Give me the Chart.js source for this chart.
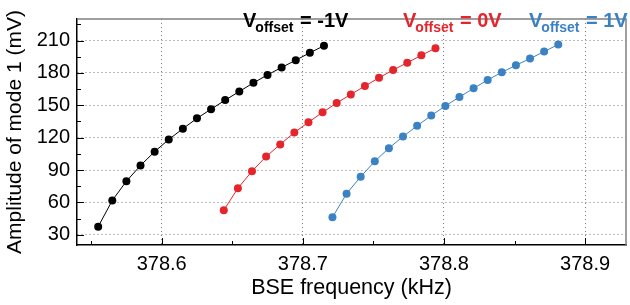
<!DOCTYPE html>
<html>
<head>
<meta charset="utf-8">
<script src="https://cdn.jsdelivr.net/npm/chart.js@4.4.1/dist/chart.umd.min.js"></script>
<style>
  html, body { margin: 0; padding: 0; background: #fff; }
  #wrap { width: 630px; height: 305px; }
</style>
</head>
<body>
<div id="wrap"><canvas id="bseChart" width="630" height="305"></canvas></div>
<script>
// BSE frequency (kHz) and amplitude of mode 1 (mV), one pair per offset voltage
const freqMinus1 = [378.555, 378.565, 378.575, 378.585, 378.595, 378.605, 378.615, 378.625, 378.635,
                    378.645, 378.655, 378.665, 378.675, 378.685, 378.695, 378.705, 378.715];
const ampMinus1 = [37.5, 61.8, 79.6, 94.2, 107.0, 118.3, 128.3, 137.9, 146.4,
                   154.8, 162.8, 170.8, 178.2, 185.1, 191.8, 198.7, 205.2];

const freqZero = [378.644, 378.654, 378.664, 378.674, 378.684, 378.694, 378.704, 378.714,
                  378.724, 378.734, 378.744, 378.754, 378.764, 378.774, 378.784, 378.794];
const ampZero = [52.7, 73.1, 88.9, 102.5, 113.7, 124.8, 134.3, 143.5,
                 152.1, 160.1, 167.8, 175.5, 182.7, 189.5, 196.3, 202.9];

const freqPlus1 = [378.721, 378.731, 378.741, 378.751, 378.761, 378.771, 378.781, 378.791, 378.801,
                   378.811, 378.821, 378.831, 378.841, 378.851, 378.861, 378.871, 378.881];
const ampPlus1 = [46.2, 68.1, 83.8, 98.1, 110.3, 121.0, 131.0, 140.5, 149.4,
                  157.7, 165.7, 173.5, 180.6, 187.1, 193.3, 199.8, 206.4];

const seriesOffsets = ['-1V', '0V', '1V'];
const seriesColors = ['#000000', '#e4262c', '#3b82c4'];

const xTicks = [378.6, 378.7, 378.8, 378.9];
const xMinorTicks = [378.55, 378.65, 378.75, 378.85];
const yTicks = [30, 60, 90, 120, 150, 180, 210];
const yMinorTicks = [45, 75, 105, 135, 165, 195, 225];

const FONT = '"Liberation Sans", Arial, Helvetica, sans-serif';

function toPoints(xs, ys) {
    return xs.map((x, i) => ({ x: x, y: ys[i] }));
}

const allSeries = [
    toPoints(freqMinus1, ampMinus1),
    toPoints(freqZero, ampZero),
    toPoints(freqPlus1, ampPlus1)
];

// frame, inward ticks and the V_offset labels
const decorPlugin = {
    id: 'decor',
    beforeDatasetsDraw(chart) {
        const { ctx, chartArea: a, scales: { x, y } } = chart;
        ctx.save();
        ctx.strokeStyle = '#808080';
        ctx.lineWidth = 1.5;
        ctx.beginPath();
        ctx.moveTo(a.left, a.top);
        ctx.lineTo(a.right, a.top);
        ctx.lineTo(a.right, a.bottom);
        ctx.stroke();

        ctx.strokeStyle = '#000';
        ctx.lineWidth = 1;
        ctx.beginPath();
        xTicks.forEach(v => { const px = Math.round(x.getPixelForValue(v)) + 0.5; ctx.moveTo(px, a.bottom); ctx.lineTo(px, a.bottom - 7); });
        xMinorTicks.forEach(v => { const px = Math.round(x.getPixelForValue(v)) + 0.5; ctx.moveTo(px, a.bottom); ctx.lineTo(px, a.bottom - 4); });
        yTicks.forEach(v => { const py = Math.round(y.getPixelForValue(v)) + 0.5; ctx.moveTo(a.left, py); ctx.lineTo(a.left + 7, py); });
        yMinorTicks.forEach(v => { const py = Math.round(y.getPixelForValue(v)) + 0.5; ctx.moveTo(a.left, py); ctx.lineTo(a.left + 4, py); });
        ctx.stroke();
        ctx.restore();
    },
    afterDatasetsDraw(chart) {
        const { ctx } = chart;
        const labelX = [243, 403, 529];
        const baseY = 27;
        ctx.save();
        ctx.textBaseline = 'alphabetic';
        ctx.textAlign = 'left';
        seriesOffsets.forEach((txt, i) => {
            let px = labelX[i];
            ctx.fillStyle = seriesColors[i];
            ctx.font = 'bold 20px ' + FONT;
            ctx.fillText('V', px, baseY);
            px += ctx.measureText('V').width - 1;
            ctx.font = 'bold 14px ' + FONT;
            ctx.fillText('offset', px, baseY + 5);
            px += ctx.measureText('offset').width + 1;
            ctx.font = 'bold 20px ' + FONT;
            ctx.fillText(' = ' + txt, px, baseY);
        });
        ctx.restore();
    }
};

const ctx = document.getElementById('bseChart').getContext('2d');
const chart = new Chart(ctx, {
    type: 'scatter',
    data: {
        datasets: allSeries.map((pts, i) => ({
            label: 'Voffset = ' + seriesOffsets[i],
            data: pts,
            showLine: true,
            borderColor: seriesColors[i],
            backgroundColor: seriesColors[i],
            borderWidth: 1,
            pointRadius: 4,
            pointBorderWidth: 0,
            fill: false,
            tension: 0
        }))
    },
    options: {
        responsive: false,
        animation: false,
        devicePixelRatio: 1,
        layout: { padding: { top: 10, right: 1, left: 0, bottom: 0 } },
        plugins: {
            legend: { display: false },
            tooltip: { enabled: false }
        },
        scales: {
            x: {
                type: 'linear',
                min: 378.54,
                max: 378.929,
                afterBuildTicks: scale => { scale.ticks = xTicks.map(v => ({ value: v })); },
                afterFit: scale => { scale.height = 60; },
                ticks: {
                    color: '#000',
                    padding: 7,
                    maxRotation: 0,
                    font: { family: FONT, size: 20 },
                    callback: v => v.toFixed(1)
                },
                grid: { color: '#7a7a7a', lineWidth: 1, drawTicks: false },
                border: { display: true, color: '#000', width: 1.5, dash: [1, 3] },
                title: {
                    display: true,
                    text: 'BSE frequency (kHz)',
                    color: '#000',
                    font: { family: FONT, size: 21.5 },
                    padding: { top: 0, bottom: 4 }
                }
            },
            y: {
                type: 'linear',
                min: 20.5,
                max: 230,
                afterBuildTicks: scale => { scale.ticks = yTicks.map(v => ({ value: v })); },
                afterFit: scale => { scale.width = 77; },
                ticks: {
                    color: '#000',
                    padding: 7,
                    font: { family: FONT, size: 20 }
                },
                grid: { color: '#7a7a7a', lineWidth: 1, drawTicks: false },
                border: { display: true, color: '#000', width: 1.5, dash: [1, 3] },
                title: {
                    display: true,
                    text: 'Amplitude of mode 1 (mV)',
                    color: '#000',
                    font: { family: FONT, size: 21 },
                    padding: { top: 3, bottom: 0 }
                }
            }
        }
    },
    plugins: [decorPlugin]
});
</script>
</body>
</html>
